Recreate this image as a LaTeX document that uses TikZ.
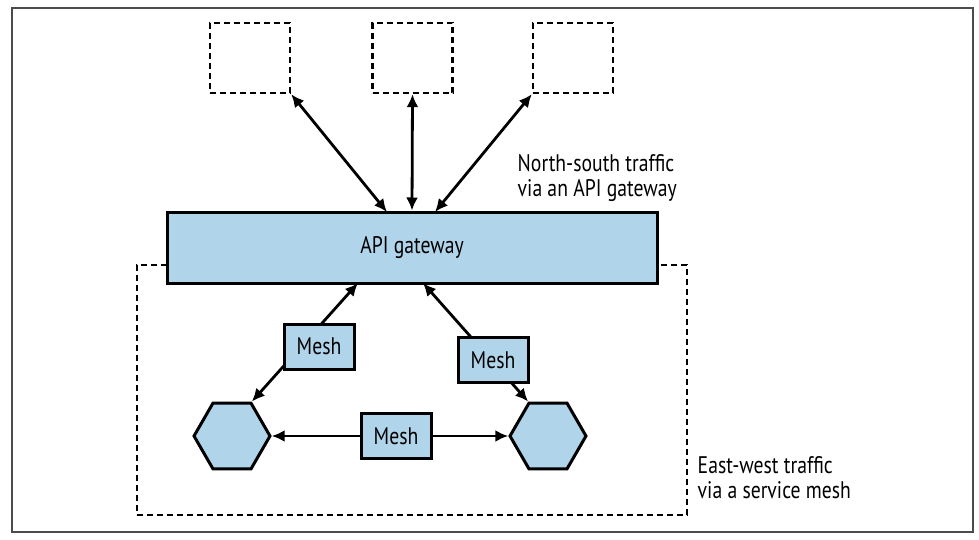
\documentclass[tikz,border=0pt]{standalone}
\usepackage{fontspec}
\setmainfont{PT Sans}[FakeStretch=0.82]
\usetikzlibrary{shapes.geometric, arrows.meta}
\definecolor{gwblue}{RGB}{176,212,234}

\begin{document}
\begin{tikzpicture}[x=1pt, y=-1pt, line width=2.8pt,
    font=\fontsize{24}{25}\selectfont,
    box/.style={draw, line width=3pt, fill=gwblue, inner sep=0pt},
    ext/.style={draw, line width=2.4pt, dash pattern=on 6pt off 4pt, minimum width=80pt, minimum height=70pt},
    hexa/.style={regular polygon, regular polygon sides=6, draw, line width=3pt,
        fill=gwblue, minimum size=76pt, inner sep=0pt},
    link/.style={{Latex[length=13pt,width=12pt]}-{Latex[length=13pt,width=12pt]}},
    note/.style={align=left, anchor=west}]
    \useasboundingbox (0,0) rectangle (979,540);
    \draw[line width=1.4pt, black!70] (12,8) rectangle (973,532);

    % outside clients
    \node[ext] (ext1) at (250,58) {};
    \node[ext] (ext2) at (412.5,58) {};
    \node[ext] (ext3) at (573,58) {};

    % mesh area behind the gateway
    \node[draw, line width=2.4pt, dash pattern=on 6pt off 4pt, minimum width=550pt, minimum height=250pt]
        (area) at (412,390) {};

    \node[box, minimum width=490pt, minimum height=71pt] (gw) at (412,247.5) {API gateway};
    \coordinate (gwA) at (387,212);
    \coordinate (gwB) at (435,212);
    \coordinate (gwC) at (358,283);
    \coordinate (gwD) at (423,283);

    \node[hexa] (hexL) at (232,436) {};
    \node[hexa] (hexR) at (548,436) {};

    \draw[link] (ext1.south east) -- (gwA);
    \draw[link] (ext2.south) -- (gw.north);
    \draw[link] (ext3.south west) -- (gwB);

    \draw[link] (hexL.60) -- (gwC);
    \draw[link] (hexR.120) -- (gwD);
    \draw[link] (hexL.east) -- (hexR.west);

    \node[box, minimum width=70pt, minimum height=45pt] (mesh1) at (319,346.5) {Mesh};
    \node[box, minimum width=70pt, minimum height=45pt] (mesh2) at (493,360) {Mesh};
    \node[box, minimum width=70pt, minimum height=45pt] (mesh3) at (396,436) {Mesh};

    \node[note] (ns) at (513,178) {North-south traffic\\via an API gateway};
    \node[note] (ew) at (693,478) {East-west traffic\\via a service mesh};
\end{tikzpicture}
\end{document}
